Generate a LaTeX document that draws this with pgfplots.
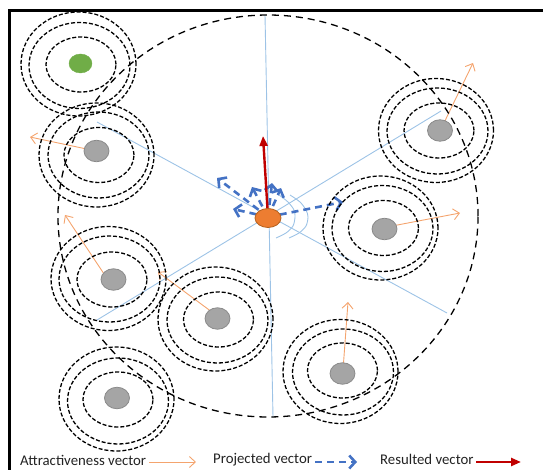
\documentclass[border=0pt]{standalone}
\usepackage{pgfplots}
\pgfplotsset{compat=1.18}
\usepackage{fontspec}
\setmainfont{Carlito}
\usetikzlibrary{arrows.meta}
\definecolor{lblue}{HTML}{9DC3E6}
\definecolor{oarrow}{HTML}{F4A46E}
\definecolor{pblue}{HTML}{4472C4}
\definecolor{rred}{HTML}{C00000}
\definecolor{gfill}{HTML}{A5A5A5}
\definecolor{gedge}{HTML}{8A8A8A}
\definecolor{green1}{HTML}{70AD47}
\definecolor{ofill}{HTML}{ED7D31}
\definecolor{oedge}{HTML}{B4611F}
\definecolor{txt}{HTML}{222222}
\begin{document}
\begin{tikzpicture}
\begin{axis}[x=1pt,y=1pt,xmin=0,xmax=543,ymin=0,ymax=470,y dir=reverse,
  hide axis,clip=false,scale only axis]
% frame
\addplot[black,line width=3pt] coordinates {(9.5,470) (9.5,11) (543,11)};
% blue guide lines
\addplot[lblue,line width=0.9pt] coordinates {(265,15) (273,417)};
\addplot[lblue,line width=0.9pt] coordinates {(97,122) (447,313)};
\addplot[lblue,line width=0.9pt] coordinates {(441,111) (97,320)};
\addplot[lblue,line width=0.9pt,smooth] coordinates {(279,195) (288,202) (294,210) (295,217) (293,226) (286,233) (276,238)};
\addplot[lblue,line width=0.9pt,smooth] coordinates {(290,195) (300,202) (306,210) (308,217) (306,226) (299,233) (289,238)};
% big dashed circle
\addplot[only marks,mark=o,mark size=201pt,mark options={black,line width=1.3pt,dash pattern=on 7pt off 5pt,xscale=1.045}] coordinates {(268,216)};
% outer rings
\addplot[only marks,mark=o,mark size=52pt,mark options={black,line width=1.3pt,dash pattern=on 4pt off 2pt,xscale=1.106}] coordinates {
(78.5,64) (96.5,155) (436,130.5) (380.5,228) (108.5,278.5) (215.5,319) (340.5,371.5) (116.5,399)};
% middle rings
\addplot[only marks,mark=o,mark size=43pt,mark options={black,line width=1.3pt,dash pattern=on 4pt off 2pt,xscale=1.174}] coordinates {
(79.5,65.5) (98.5,155) (437.5,131) (382.5,228.5) (109.5,279) (217.5,320) (343,372) (118,401)};
% inner rings
\addplot[only marks,mark=o,mark size=27.5pt,mark options={black,line width=1.3pt,dash pattern=on 4pt off 2pt,xscale=1.273}] coordinates {
(81,64.5) (99,155) (439,130.5) (383.5,228) (112,279.5) (218.5,319.5) (342.5,370.5) (118,399.5)};
% dots
\addplot[only marks,mark=*,mark size=10.75pt,mark options={fill=gfill,draw=gedge,line width=0.8pt,xscale=1.163}] coordinates {
(96.5,151) (440,130.5) (384.5,229) (113.5,279.5) (217.5,318.5) (342.5,373.5) (117,398)};
\addplot[only marks,mark=*,mark size=9.5pt,mark options={fill=green1,draw=green1,xscale=1.21}] coordinates {(80.5,63.5)};
% attractiveness vectors
\addplot[oarrow,line width=0.9pt,-{Straight Barb[length=6pt,width=11pt]}] coordinates {(96,151) (30,137)};
\addplot[oarrow,line width=0.9pt,-{Straight Barb[length=6pt,width=11pt]}] coordinates {(442,127) (473,63)};
\addplot[oarrow,line width=0.9pt,-{Straight Barb[length=6pt,width=11pt]}] coordinates {(387,227) (460,213)};
\addplot[oarrow,line width=0.9pt,-{Straight Barb[length=6pt,width=11pt]}] coordinates {(108,280) (65,215)};
\addplot[oarrow,line width=0.9pt,-{Straight Barb[length=6pt,width=11pt]}] coordinates {(220,318) (158,272)};
\addplot[oarrow,line width=0.9pt,-{Straight Barb[length=6pt,width=11pt]}] coordinates {(343,370) (348,302)};
% centre node
\addplot[only marks,mark=*,mark size=9.5pt,mark options={fill=ofill,draw=oedge,line width=0.8pt,xscale=1.37}] coordinates {(268,218)};
% projected vectors
\addplot[pblue,line width=2.6pt,dash pattern=on 7pt off 5pt,-{Straight Barb[length=6pt,width=13pt]}] coordinates {(268,217) (343,202)};
\addplot[pblue,line width=2.6pt,dash pattern=on 7pt off 5pt,-{Straight Barb[length=6pt,width=13pt]}] coordinates {(268,217) (217,178)};
\addplot[pblue,line width=2.6pt,dash pattern=on 7pt off 5pt,-{Straight Barb[length=6pt,width=13pt]}] coordinates {(268,217) (233,209)};
\addplot[pblue,line width=2.6pt,dash pattern=on 7pt off 5pt,-{Straight Barb[length=6pt,width=13pt]}] coordinates {(268,217) (252,187)};
\addplot[pblue,line width=2.6pt,dash pattern=on 7pt off 5pt,-{Straight Barb[length=6pt,width=13pt]}] coordinates {(268,217) (272,183)};
\addplot[pblue,line width=2.6pt,dash pattern=on 7pt off 5pt,-{Straight Barb[length=6pt,width=13pt]}] coordinates {(268,217) (281,188)};
% resulted vector
\addplot[rred,line width=2.4pt,-{Triangle[length=10pt,width=8pt]}] coordinates {(268,217) (263,136)};
% legend
\node[anchor=base west,text=txt,font=\fontsize{14.8}{16}\selectfont,inner sep=0pt] at (axis cs:20,465.5) {Attractiveness vector};
\addplot[oarrow,line width=0.9pt,-{Straight Barb[length=6pt,width=11pt]}] coordinates {(149,462) (196,462)};
\node[anchor=base west,text=txt,font=\fontsize{14.8}{16}\selectfont,inner sep=0pt] at (axis cs:213,463.5) {Projected vector};
\addplot[pblue,line width=2.6pt,dash pattern=on 7pt off 5pt,-{Straight Barb[length=6pt,width=13pt]}] coordinates {(315,462) (357,462)};
\node[anchor=base west,text=txt,font=\fontsize{14.8}{16}\selectfont,inner sep=0pt] at (axis cs:380,464.5) {Resulted vector};
\addplot[rred,line width=2.4pt,-{Triangle[length=10pt,width=8pt]}] coordinates {(476,462) (521,462)};
\end{axis}
\pgfresetboundingbox
\path[use as bounding box] (current axis.south west) rectangle (current axis.north east);
\end{tikzpicture}
\end{document}
